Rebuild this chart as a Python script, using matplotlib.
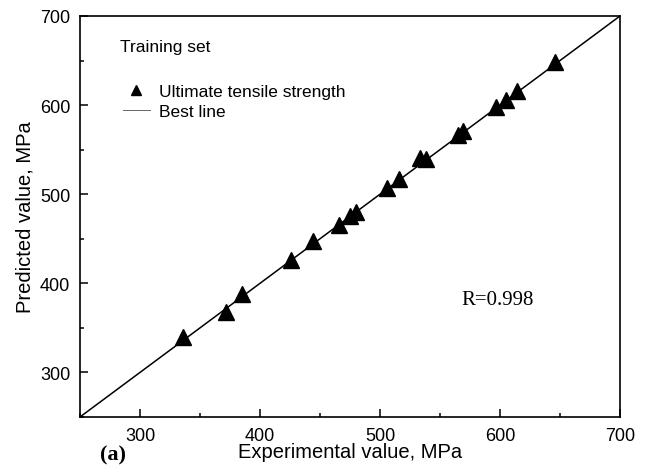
import numpy as np
import matplotlib.pyplot as plt
from matplotlib.ticker import MultipleLocator

# experimental vs predicted UTS (MPa), training set
exp_val = [336, 372, 385, 426, 444, 466, 475, 480, 506, 516, 533, 538,
           565, 569, 597, 605, 614, 646]
pred_val = [340, 368, 388, 426, 447, 465, 475, 480, 507, 517, 541, 539,
            566, 571, 598, 606, 616, 648]
best_line = [250, 700]
r_text = 'R=0.998'

plt.rcParams['font.family'] = ['Liberation Sans', 'DejaVu Sans']

fig = plt.figure(figsize=(6.46, 4.77), dpi=100)
ax = fig.add_axes([0.1238, 0.1237, 0.836, 0.8407])

ax.plot(exp_val, pred_val, '^', color='k', ms=11, lw=0,
        label='Ultimate tensile strength')
ax.plot(best_line, best_line, color='k', lw=1.1, label='Best line')

ax.set_xlim(250, 700)
ax.set_ylim(250, 700)
ax.xaxis.set_major_locator(MultipleLocator(100))
ax.xaxis.set_minor_locator(MultipleLocator(50))
ax.yaxis.set_major_locator(MultipleLocator(100))
ax.yaxis.set_minor_locator(MultipleLocator(50))
ax.tick_params(which='both', direction='in', labelsize=13, width=1.1, pad=7)
ax.tick_params(which='major', length=6)
ax.tick_params(which='minor', length=3)
for s in ax.spines.values():
    s.set_linewidth(1.2)

ax.set_xlabel('Experimental value, MPa', fontsize=14.5, labelpad=-1)
ax.set_ylabel('Predicted value, MPa', fontsize=14.5, labelpad=4)

ax.text(0.074, 0.923, 'Training set', transform=ax.transAxes,
        fontsize=12.5, va='center')
leg = ax.legend(loc='upper left', bbox_to_anchor=(0.05, 0.87), frameon=False,
                fontsize=12.5, handlelength=1.6, handletextpad=0.5,
                labelspacing=0.3, markerscale=0.6)
leg.get_lines()[1].set_color('0.3')
leg.get_lines()[1].set_linewidth(0.6)

ax.text(0.707, 0.294, r_text, transform=ax.transAxes, fontsize=15,
        family='Liberation Serif', va='center')
fig.text(100 / 646, 1 - 455 / 477, '(a)', fontsize=16, fontweight='bold',
         family='Liberation Serif', va='center')

fig.savefig('out.png', dpi=100)
